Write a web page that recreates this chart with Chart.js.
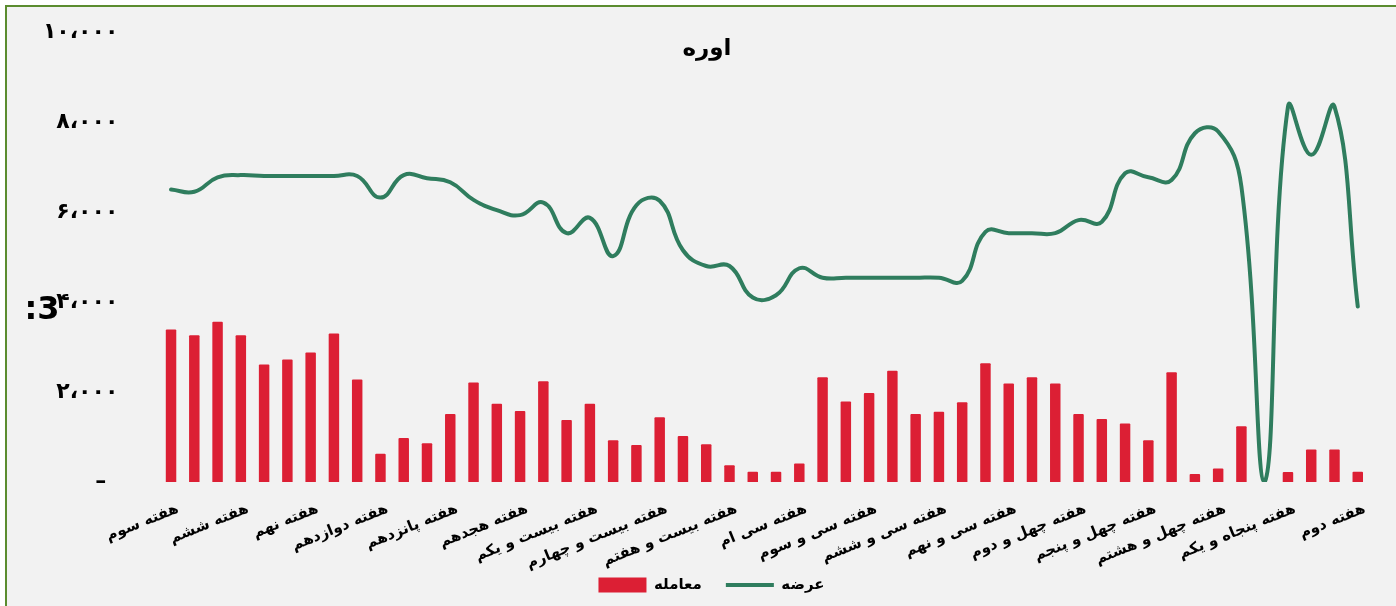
<!DOCTYPE html>
<html lang="fa">
<head>
<meta charset="utf-8">
<title>اوره</title>
<script src="https://cdn.jsdelivr.net/npm/chart.js@4.4.1/dist/chart.umd.min.js"></script>
<style>
  html, body { margin: 0; padding: 0; background: #fff; overflow: hidden; }
  #frame {
    position: absolute; left: 5px; top: 5px; width: 1400px; height: 610px;
    border: 2px solid #5b8c2f; background: #f2f2f2;
  }
  #wrap { position: absolute; left: 0; top: 0; width: 1396px; height: 606px; }
</style>
</head>
<body>
<div id="frame"></div>
<div id="wrap"><canvas id="myChart"></canvas></div>
<script>
// ---------- Dados ----------
const weeks = [
  'هفته سوم','هفته چهارم','هفته پنجم','هفته ششم','هفته هفتم','هفته هشتم','هفته نهم','هفته دهم',
  'هفته یازدهم','هفته دوازدهم','هفته سیزدهم','هفته چهاردهم','هفته پانزدهم','هفته شانزدهم',
  'هفته هفدهم','هفته هجدهم','هفته نوزدهم','هفته بیستم','هفته بیست و یکم','هفته بیست و دوم',
  'هفته بیست و سوم','هفته بیست و چهارم','هفته بیست و پنجم','هفته بیست و ششم','هفته بیست و هفتم',
  'هفته بیست و هشتم','هفته بیست و نهم','هفته سی ام','هفته سی و یکم','هفته سی و دوم','هفته سی و سوم',
  'هفته سی و چهارم','هفته سی و پنجم','هفته سی و ششم','هفته سی و هفتم','هفته سی و هشتم','هفته سی و نهم',
  'هفته چهلم','هفته چهل و یکم','هفته چهل و دوم','هفته چهل و سوم','هفته چهل و چهارم','هفته چهل و پنجم',
  'هفته چهل و ششم','هفته چهل و هفتم','هفته چهل و هشتم','هفته چهل و نهم','هفته پنجاهم','هفته پنجاه و یکم',
  'هفته پنجاه و دوم','هفته اول','هفته دوم'
];

// معامله (bars)
const deals = [
  3390, 3260, 3560, 3260, 2610, 2720, 2880, 3300, 2280, 630,
  980, 860, 1510, 2210, 1740, 1580, 2240, 1380, 1740, 930,
  820, 1440, 1020, 840, 370, 230, 230, 410, 2330, 1790,
  1980, 2470, 1510, 1560, 1770, 2640, 2190, 2330, 2190, 1510,
  1400, 1300, 930, 2440, 180, 300, 1240, 0, 220, 720,
  720, 230
];

// عرضه (line)
const supply = [
  6500, 6450, 6770, 6820, 6800, 6800, 6800, 6800, 6800, 6320,
  6820, 6750, 6660, 6270, 6040, 5930, 6210, 5530, 5870, 5020,
  6150, 6250, 5150, 4800, 4800, 4100, 4150, 4750, 4540, 4540,
  4540, 4540, 4540, 4540, 4470, 5560, 5530, 5530, 5530, 5820,
  5780, 6860, 6770, 6710, 7750, 7790, 6560, 0, 8340, 7270,
  8340, 3900
];

const yTicks = [0, 2000, 4000, 6000, 8000, 10000];

// ---------- Helpers ----------
const FONT = "'DejaVu Sans', sans-serif";
const faDigits = '۰۱۲۳۴۵۶۷۸۹';
function toFa(n) {
  if (n === 0) return '– \u2009';
  const s = String(n).replace(/\B(?=(\d{3})+(?!\d))/g, '،');
  return s.replace(/\d/g, d => faDigits[+d]);
}

// title + stray glyph drawn over the plot, like the original
const overlayText = {
  id: 'overlayText',
  afterLayout(chart) {
    // labels may run outside their axis boxes (no clipping)
    chart.scales.x.bottom = chart.height;
    chart.scales.y.left = 0;
  },
  afterDraw(chart) {
    const ctx = chart.ctx;
    ctx.save();
    ctx.fillStyle = '#000';
    ctx.textAlign = 'center';
    ctx.textBaseline = 'middle';
    ctx.font = 'bold 23px ' + FONT;
    ctx.fillText('اوره', 707, 49);
    ctx.font = 'bold 32px ' + FONT;
    ctx.fillText(':3', 42, 311);
    ctx.restore();
  }
};

const ctx = document.getElementById('myChart').getContext('2d');
new Chart(ctx, {
  data: {
    labels: weeks,
    datasets: [
      {
        type: 'bar', label: 'معامله', data: deals,
        backgroundColor: '#dc1f34', borderWidth: 0, borderRadius: 1,
        barPercentage: 0.45, categoryPercentage: 1.0,
        pointStyle: 'rect', order: 2
      },
      {
        type: 'line', label: 'عرضه', data: supply,
        borderColor: '#2f7d5e', backgroundColor: '#2f7d5e', borderWidth: 4,
        pointRadius: 0, tension: 0.45, fill: false, borderCapStyle: 'round',
        pointStyle: 'line', order: 1
      }
    ]
  },
  options: {
    responsive: true, maintainAspectRatio: false, animation: false,
    layout: { padding: { left: 53.6, right: 26.6, top: 32, bottom: 3.5 } },
    scales: {
      x: {
        grid: { display: false, drawTicks: false }, border: { display: false },
        afterFit: s => { s.height = 71.5; },
        ticks: {
          autoSkip: false, minRotation: 22, maxRotation: 22, padding: 18, labelOffset: 7,
          color: '#000', font: { family: FONT, size: 15, weight: 'bold' },
          callback: function (v, i) { return i % 3 === 0 ? this.getLabelForValue(v) : ''; }
        }
      },
      y: {
        min: 0, max: 10000,
        grid: { display: false, drawTicks: true, tickLength: 38 }, border: { display: false },
        afterFit: s => { s.width = 105.8; },
        afterBuildTicks: s => { s.ticks = yTicks.map(v => ({ value: v })); },
        ticks: {
          padding: 3, color: '#000', font: { family: FONT, size: 22, weight: 'bold' },
          callback: v => toFa(v)
        }
      }
    },
    plugins: {
      title: { display: false },
      tooltip: { enabled: false },
      legend: {
        position: 'bottom',
        labels: {
          usePointStyle: true, pointStyleWidth: 48, boxHeight: 15, padding: 24,
          color: '#000', font: { family: FONT, size: 15, weight: 'bold' },
          sort: (a, b) => a.datasetIndex - b.datasetIndex
        }
      }
    }
  },
  plugins: [overlayText]
});
</script>
</body>
</html>
